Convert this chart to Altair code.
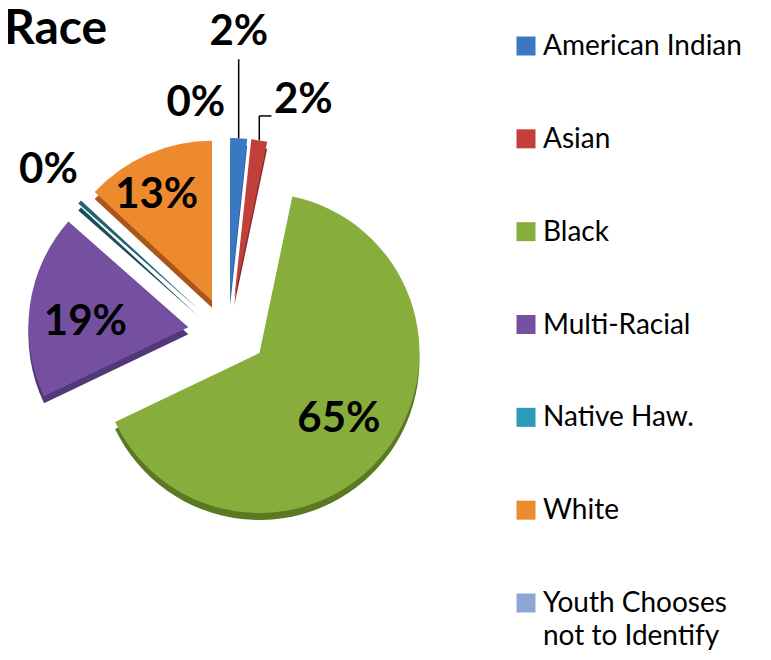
import altair as alt
import pandas as pd

# ---- data -------------------------------------------------------------
categories = ["American Indian", "Asian", "Black", "Multi-Racial",
              "Native Haw.", "White", "Youth Chooses not to Identify"]
legend_labels = ["American Indian", "Asian", "Black", "Multi-Racial",
                 "Native Haw.", "White", "Youth Chooses\nnot to Identify"]
percent_values = [1.7, 1.6, 64.6, 18.6, 0.4, 13.1, 0.0]
percent_labels = ["2%", "2%", "65%", "19%", "0%", "13%", "0%"]

# ---- style ------------------------------------------------------------
legend_colors = ["#3b78c4", "#c23f3b", "#87ad3c", "#7650a0", "#2d9bb8", "#ee8a2e", "#8ea6d6"]
face_colors = ["#3b78c4", "#c23f3b", "#87ad3c", "#7650a0", "#1f6470", "#ee8a2e", "#8ea6d6"]
side_colors = ["#2a5790", "#8c2b29", "#5a7a22", "#523878", "#184e58", "#a9561b", "#5f78a8"]

# label placement (radius from pie centre, angular nudge in degrees)
label_radius = [300, 244, 141, 143, 242, 154, 231]
label_shift = [-1, 9, 0, -4, 0, -4, -8]
# leader lines: (has leader, elbow dy below label centre, horizontal end dx from label centre)
leader_flag = [1, 1, 0, 0, 0, 0, 0]
leader_dy = [27, 16, 0, 0, 0, 0, 0]
leader_dx = [0, -32, 0, 0, 0, 0, 0]

CX, CY, R = 220, 324, 160
EXPLODE, TILT, DEPTH = 40, 0.85, 7
FONT = "Lato"

df = pd.DataFrame({
    "idx": list(range(len(categories))),
    "cat": categories,
    "legend_label": legend_labels,
    "value": percent_values,
    "plabel": percent_labels,
    "lfill": legend_colors,
    "fill": face_colors,
    "side": side_colors,
    "lr": label_radius,
    "lshift": label_shift,
    "leader": leader_flag,
    "ldy": leader_dy,
    "ldx": leader_dx,
})

base = alt.Chart(df).transform_window(
    cum="sum(value)", sort=[alt.SortField("idx")], frame=[None, 0]
).transform_joinaggregate(
    total="sum(value)"
).transform_calculate(
    t1="datum.cum / datum.total * 2 * PI",
    t0="(datum.cum - datum.value) / datum.total * 2 * PI",
    mid="(datum.t0 + datum.t1) / 2",
    ox=f"{CX} + {EXPLODE} * sin(datum.mid)",
    oy=f"{CY} - {EXPLODE} * {TILT} * cos(datum.mid)",
    oys=f"datum.oy + {DEPTH}",
)

X = alt.X("ox:Q", scale=None, axis=None)
TH = alt.Theta("t0:Q", scale=None)

side = base.mark_arc(outerRadius=R).encode(
    x=X, y=alt.Y("oys:Q", scale=None, axis=None),
    theta=TH, theta2="t1:Q",
    color=alt.Color("side:N", scale=None, legend=None),
)

face = base.mark_arc(outerRadius=R).encode(
    x=X, y=alt.Y("oy:Q", scale=None, axis=None),
    theta=TH, theta2="t1:Q",
    color=alt.Color("fill:N", scale=None, legend=None),
)

lab_base = base.transform_calculate(
    la="datum.mid + datum.lshift * PI / 180",
    lx=f"{CX} + datum.lr * sin(datum.la)",
    ly=f"{CY} - datum.lr * cos(datum.la)",
)

labels = lab_base.mark_text(
    font=FONT, fontWeight="bold", fontSize=42, color="black", baseline="middle", align="center"
).encode(
    x=alt.X("lx:Q", scale=None, axis=None),
    y=alt.Y("ly:Q", scale=None, axis=None),
    text="plabel:N",
)

lead_base = lab_base.transform_filter("datum.leader > 0").transform_calculate(
    ax=f"datum.ox + {R} * sin(datum.mid)",
    ay=f"datum.oy - {R} * cos(datum.mid)",
    ey="datum.ly + datum.ldy",
    ex="datum.ldx == 0 ? datum.ax : datum.lx + datum.ldx",
)

lead1 = lead_base.mark_rule(color="black", strokeWidth=1.5).encode(
    x=alt.X("ax:Q", scale=None, axis=None), y=alt.Y("ay:Q", scale=None, axis=None),
    x2="ax:Q", y2="ey:Q",
)
lead2 = lead_base.mark_rule(color="black", strokeWidth=1.5).encode(
    x=alt.X("ax:Q", scale=None, axis=None), y=alt.Y("ey:Q", scale=None, axis=None),
    x2="ex:Q", y2="ey:Q",
)

LY = alt.Y("cat:N", scale=alt.Scale(type="point", domain=categories, range=[38, 595], padding=0), axis=None)

leg_sq = alt.Chart(df).mark_square(size=361, opacity=1).encode(
    x=alt.value(518), y=LY,
    color=alt.Color("lfill:N", scale=None, legend=None),
)
leg_tx = alt.Chart(df).mark_text(
    font=FONT, fontSize=28, align="left", baseline="top", dy=-13,
    lineBreak="\n", lineHeight=33, color="black",
).encode(
    x=alt.value(535), y=LY, text="legend_label:N",
)

title = alt.Chart(pd.DataFrame({"t": ["Race"]})).mark_text(
    font=FONT, fontWeight="bold", fontSize=48, align="left", baseline="alphabetic", color="black",
).encode(x=alt.value(-4), y=alt.value(36), text="t:N")

chart = alt.layer(
    side, face, lead1, lead2, labels, leg_sq, leg_tx, title
).resolve_scale(
    x="independent", y="independent"
).properties(
    width=755, height=644, padding=0, autosize="none"
).configure_view(stroke=None)

chart.save("out.html", embed_options={"renderer": "svg", "actions": False})
